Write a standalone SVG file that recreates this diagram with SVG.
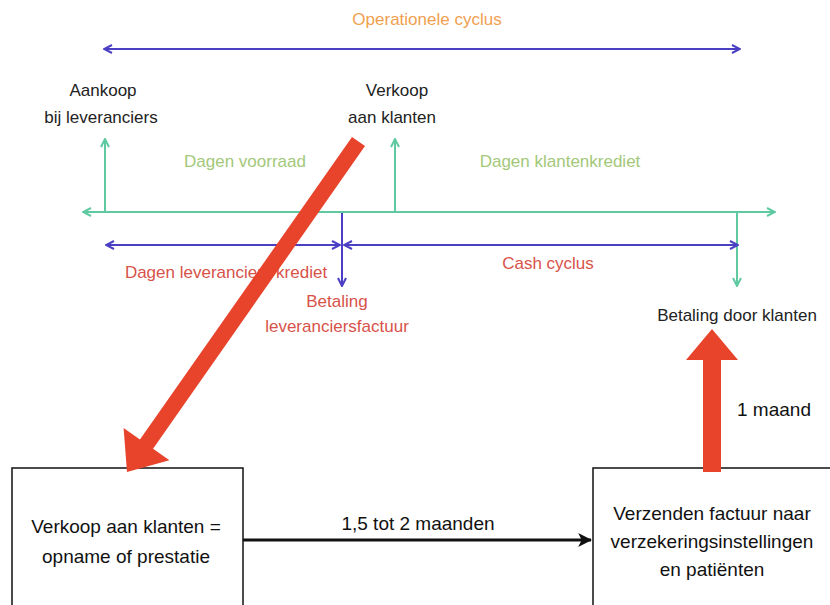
<svg xmlns="http://www.w3.org/2000/svg" width="830" height="605" viewBox="0 0 830 605">
  <style>
    text { font-family: "Liberation Sans", Arial, sans-serif; text-anchor: middle; }
    .t17 { font-size: 17px; }
    .t19 { font-size: 19px; fill: #111; }
    .dark { fill: #222; }
    .orange { fill: #f0a050; }
    .lgreen { fill: #a3c87a; }
    .red { fill: #d8524a; }
    .blue { stroke: #4b3fc4; stroke-width: 2; fill: none; }
    .green { stroke: #5fcaa2; stroke-width: 2; fill: none; }
    .box { fill: #fff; stroke: #111; stroke-width: 1.5; }
    .bigred { fill: #e8442c; }
  </style>
  <defs>
    <marker id="ahBlue" viewBox="0 0 10 10" refX="9" refY="5" markerWidth="10" markerHeight="10" markerUnits="userSpaceOnUse" orient="auto-start-reverse">
      <path d="M1,1 L9,5 L1,9" fill="none" stroke="#4b3fc4" stroke-width="2"/>
    </marker>
    <marker id="ahGreen" viewBox="0 0 10 10" refX="9" refY="5" markerWidth="10" markerHeight="10" markerUnits="userSpaceOnUse" orient="auto-start-reverse">
      <path d="M1,1 L9,5 L1,9" fill="none" stroke="#5fcaa2" stroke-width="2"/>
    </marker>
    <marker id="ahBlack" viewBox="0 0 12 12" refX="11" refY="6" markerWidth="14" markerHeight="14" markerUnits="userSpaceOnUse" orient="auto">
      <path d="M0,0 L12,6 L0,12 L3,6 Z" fill="#111"/>
    </marker>
  </defs>

  <!-- Timeline of the operating cycle -->
  <g id="timeline">
    <text class="t17 orange" x="427" y="25">Operationele cyclus</text>
    <line class="blue" x1="104" y1="49" x2="740" y2="49" marker-start="url(#ahBlue)" marker-end="url(#ahBlue)"/>

    <text class="t17 dark" x="103" y="96">Aankoop</text>
    <text class="t17 dark" x="101" y="123">bij leveranciers</text>
    <text class="t17 dark" x="397" y="96">Verkoop</text>
    <text class="t17 dark" x="392" y="123">aan klanten</text>

    <line class="green" x1="83" y1="212" x2="775" y2="212" marker-start="url(#ahGreen)" marker-end="url(#ahGreen)"/>
    <line class="green" x1="105" y1="212" x2="105" y2="139" marker-end="url(#ahGreen)"/>
    <line class="green" x1="395" y1="212" x2="395" y2="139" marker-end="url(#ahGreen)"/>
    <line class="green" x1="737" y1="212" x2="737" y2="286" marker-end="url(#ahGreen)"/>

    <text class="t17 lgreen" x="245" y="167">Dagen voorraad</text>
    <text class="t17 lgreen" x="560" y="167">Dagen klantenkrediet</text>

    <line class="blue" x1="342" y1="213" x2="342" y2="286" marker-end="url(#ahBlue)"/>
    <line class="blue" x1="106" y1="245" x2="340" y2="245" marker-start="url(#ahBlue)" marker-end="url(#ahBlue)"/>
    <line class="blue" x1="344" y1="245" x2="738" y2="245" marker-start="url(#ahBlue)" marker-end="url(#ahBlue)"/>

    <text class="t17 red" x="226" y="278">Dagen leveranciers krediet</text>
    <text class="t17 red" x="548" y="269">Cash cyclus</text>
    <text class="t17 red" x="337" y="307">Betaling</text>
    <text class="t17 red" x="337" y="332">leveranciersfactuur</text>
    <text class="t17 dark" x="737" y="321">Betaling door klanten</text>
  </g>

  <!-- Process boxes -->
  <g id="verkoop">
    <rect class="box" x="12" y="468" width="231" height="150"/>
    <text class="t19" x="126" y="533">Verkoop aan klanten =</text>
    <text class="t19" x="126" y="563">opname of prestatie</text>
  </g>
  <g id="factuur">
    <rect class="box" x="593" y="468" width="250" height="150"/>
    <text class="t19" x="712" y="520">Verzenden factuur naar</text>
    <text class="t19" x="712" y="548">verzekeringsinstellingen</text>
    <text class="t19" x="712" y="576">en patiënten</text>
  </g>

  <!-- Connectors -->
  <g id="connectors">
    <line x1="243" y1="540" x2="591" y2="540" stroke="#111" stroke-width="3" marker-end="url(#ahBlack)"/>
    <text class="t19" x="418" y="530">1,5 tot 2 maanden</text>

    <polygon class="bigred" points="352,136.9 365,146.1 153.05,448.7 169.4,460.2 127,472 123.6,428.1 139.95,439.6"/>

    <polygon class="bigred" points="703,472 721,472 721,360 738,360 712,329 686,360 703,360"/>
    <text class="t19" x="774" y="416">1 maand</text>
  </g>
</svg>
